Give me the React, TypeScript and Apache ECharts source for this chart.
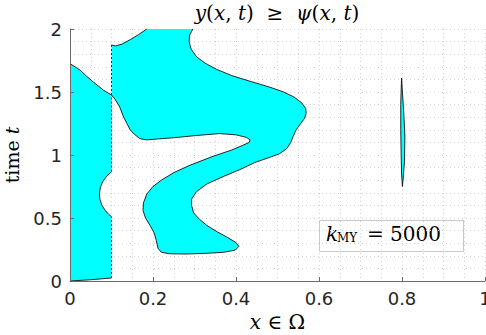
import React, { useEffect, useRef } from 'react';
import * as echarts from 'echarts';

// Axis ticks
const xTicks = [0, 0.2, 0.4, 0.6, 0.8, 1];
const tTicks = [0, 0.5, 1, 1.5, 2];
const kMY = 5000;

// Region where y(x,t) >= psi(x,t): left strip (x in [0, 0.1])
const regionLeft: number[][] = [
  [0, 0], [0.05, 0.01], [0.1, 0.024],
  [0.1, 0.51], [0.093, 0.53], [0.085, 0.56], [0.077, 0.6], [0.072, 0.65], [0.071, 0.69],
  [0.073, 0.74], [0.079, 0.79], [0.088, 0.83], [0.1, 0.868],
  [0.1, 1.476], [0.08, 1.516], [0.056, 1.58], [0.04, 1.625], [0.024, 1.675], [0.012, 1.7], [0, 1.725],
];

// Main region (upper lobe joined to the lower snake)
const regionMain: number[][] = [
  [0.1, 1.873], [0.11, 1.866], [0.125, 1.88], [0.145, 1.915], [0.165, 1.955], [0.185, 2.0],
  [0.296, 2.0], [0.288, 1.95], [0.287, 1.9], [0.292, 1.84], [0.305, 1.78], [0.325, 1.73],
  [0.353, 1.68], [0.39, 1.63], [0.434, 1.585], [0.48, 1.54], [0.515, 1.5], [0.54, 1.46],
  [0.558, 1.415], [0.568, 1.37], [0.569, 1.33], [0.565, 1.29], [0.555, 1.245], [0.545, 1.2],
  [0.538, 1.15], [0.532, 1.1], [0.522, 1.05], [0.505, 1.01], [0.48, 0.98], [0.445, 0.94],
  [0.41, 0.885], [0.37, 0.83], [0.33, 0.77], [0.305, 0.71], [0.293, 0.65], [0.293, 0.6],
  [0.298, 0.54], [0.312, 0.49], [0.33, 0.44], [0.355, 0.39], [0.38, 0.345], [0.4, 0.305],
  [0.407, 0.275], [0.398, 0.245], [0.37, 0.228], [0.33, 0.22], [0.28, 0.214], [0.24, 0.216],
  [0.22, 0.228], [0.212, 0.26], [0.208, 0.32], [0.203, 0.38], [0.193, 0.44], [0.182, 0.5],
  [0.176, 0.56], [0.177, 0.62], [0.185, 0.69], [0.2, 0.75], [0.22, 0.8], [0.25, 0.86],
  [0.29, 0.92], [0.345, 0.99], [0.39, 1.04], [0.415, 1.075], [0.432, 1.1], [0.434, 1.12],
  [0.425, 1.14], [0.4, 1.16], [0.36, 1.17], [0.305, 1.155], [0.25, 1.137], [0.21, 1.127],
  [0.185, 1.12], [0.168, 1.13], [0.155, 1.165], [0.145, 1.2], [0.137, 1.25], [0.128, 1.31],
  [0.12, 1.38], [0.108, 1.445], [0.1, 1.476],
];

// Thin sliver near x = 0.8
const regionSliver: number[][] = [
  [0.799, 1.61], [0.801, 1.5], [0.804, 1.35], [0.807, 1.15], [0.806, 0.95], [0.803, 0.82],
  [0.801, 0.75], [0.799, 0.85], [0.798, 1.0], [0.797, 1.2], [0.797, 1.4], [0.798, 1.52],
];

const regions = [regionLeft, regionMain, regionSliver];

const CYAN = '#00ffff';
const SERIF = 'DejaVu Serif';
const SANS = 'DejaVu Sans';

function edgeType(a: number[], b: number[]): string {
  if (a[0] === 0 && b[0] === 0) return 'none';
  if (a[1] === 2 && b[1] === 2) return 'none';
  if (a[0] === 0.1 && b[0] === 0.1) return 'dash';
  return 'solid';
}

function makeSeries(poly: number[][], idx: number) {
  return {
    type: 'custom',
    name: 'region' + idx,
    coordinateSystem: 'cartesian2d',
    xAxisIndex: 0,
    yAxisIndex: 0,
    silent: true,
    z: 2,
    data: [[poly[0][0], poly[0][1]]],
    renderItem: (_params: any, api: any) => {
      const pts = poly.map((p) => api.coord(p));
      const children: any[] = [
        { type: 'polygon', shape: { points: pts }, style: { fill: CYAN, stroke: null } },
      ];
      const n = poly.length;
      let run: number[][] = [];
      let runType = '';
      const flush = () => {
        if (run.length > 1 && runType !== 'none') {
          children.push({
            type: 'polyline',
            shape: { points: run },
            style: runType === 'dash'
              ? { stroke: '#222', lineWidth: 0.9, lineDash: [2, 2], fill: null }
              : { stroke: '#111', lineWidth: 0.9, fill: null },
          });
        }
      };
      for (let i = 0; i < n; i++) {
        const a = poly[i];
        const b = poly[(i + 1) % n];
        const t = edgeType(a, b);
        if (t !== runType) {
          flush();
          run = [pts[i]];
          runType = t;
        }
        run.push(pts[(i + 1) % n]);
      }
      flush();
      return { type: 'group', children };
    },
  };
}

export default function App() {
  const ref = useRef<HTMLDivElement>(null);
  useEffect(() => {
    if (!ref.current) return;
    const chart = echarts.init(ref.current, undefined, { renderer: 'svg' });
    const gridLine = { show: true, lineStyle: { color: '#d2d2d2', width: 1, type: [1, 3] } };
    const baseX = { type: 'value', min: 0, max: 1, interval: 0.2 };
    const baseY = { type: 'value', min: 0, max: 2, interval: 0.5 };
    const axisCommon = {
      z: 5,
      axisLine: { show: true, lineStyle: { color: '#6a6a6a', width: 1 } },
      axisTick: { show: true, inside: true, length: 4, lineStyle: { color: '#6a6a6a' } },
      splitLine: { show: false },
    };
    chart.setOption({
      animation: false,
      grid: { left: 70, top: 29, width: 415, height: 252, containLabel: false, outerBoundsMode: 'none' },
      xAxis: [
        {
          ...baseX,
          position: 'bottom',
          axisLine: { show: false }, axisTick: { show: false }, axisLabel: { show: false },
          splitLine: gridLine,
          minorTick: { show: false, splitNumber: 4 },
          minorSplitLine: gridLine,
        },
        {
          ...baseX,
          ...axisCommon,
          position: 'bottom',
          axisLabel: {
            fontFamily: SANS, fontSize: 18, color: '#262626', margin: 8,
            formatter: (v: number) => (xTicks.includes(v) ? String(v) : ''),
          },
          name: '{i|x}{r| ∈ Ω}',
          nameLocation: 'middle',
          nameGap: 30,
          nameTextStyle: {
            rich: {
              i: { fontFamily: SERIF, fontStyle: 'italic', fontSize: 20, color: '#000' },
              r: { fontFamily: SERIF, fontSize: 20, color: '#000' },
            },
          },
        },
      ],
      yAxis: [
        {
          ...baseY,
          position: 'left',
          axisLine: { show: false }, axisTick: { show: false }, axisLabel: { show: false },
          splitLine: gridLine,
          minorTick: { show: false, splitNumber: 5 },
          minorSplitLine: gridLine,
        },
        {
          ...baseY,
          ...axisCommon,
          position: 'left',
          axisLabel: {
            fontFamily: SANS, fontSize: 18, color: '#262626', margin: 8,
            formatter: (v: number) => (tTicks.includes(v) ? String(v) : ''),
          },
          name: '{r|time }{i|t}',
          nameLocation: 'middle',
          nameGap: 49,
          nameTextStyle: {
            rich: {
              i: { fontFamily: SERIF, fontStyle: 'italic', fontSize: 19, color: '#000' },
              r: { fontFamily: SERIF, fontSize: 19, color: '#000' },
            },
          },
        },
      ],
      graphic: [
        {
          type: 'text',
          x: 277,
          y: 13,
          z: 10,
          style: {
            text: '{i|y}{r|(}{i|x}{r|, }{i|t}{r|)  ≥  }{i|ψ}{r|(}{i|x}{r|, }{i|t}{r|)}',
            align: 'center',
            verticalAlign: 'middle',
            rich: {
              i: { fontFamily: SERIF, fontStyle: 'italic', fontSize: 20, fill: '#000' },
              r: { fontFamily: SERIF, fontSize: 20, fill: '#000' },
            },
          },
        },
        {
          type: 'group',
          z: 10,
          children: [
            {
              type: 'rect',
              shape: { x: 319.5, y: 220.5, width: 144, height: 31 },
              style: { fill: '#fff', stroke: '#c8c8c8', lineWidth: 1 },
            },
            {
              type: 'text', x: 326, y: 234,
              style: { text: 'k', fontFamily: SERIF, fontStyle: 'italic', fontSize: 20, fill: '#000', verticalAlign: 'middle' },
            },
            {
              type: 'text', x: 337, y: 238,
              style: { text: 'MY', fontFamily: SERIF, fontSize: 12, fill: '#000', verticalAlign: 'middle' },
            },
            {
              type: 'text', x: 367, y: 234,
              style: { text: '= ' + kMY, fontFamily: SERIF, fontSize: 20, fill: '#000', verticalAlign: 'middle' },
            },
          ],
        },
      ],
      series: regions.map((r, i) => makeSeries(r, i)),
    });
    return () => chart.dispose();
  }, []);
  return (
    <div
      ref={ref}
      style={{ position: 'fixed', left: 0, top: 0, width: 486, height: 335, background: '#fff' }}
    />
  );
}
